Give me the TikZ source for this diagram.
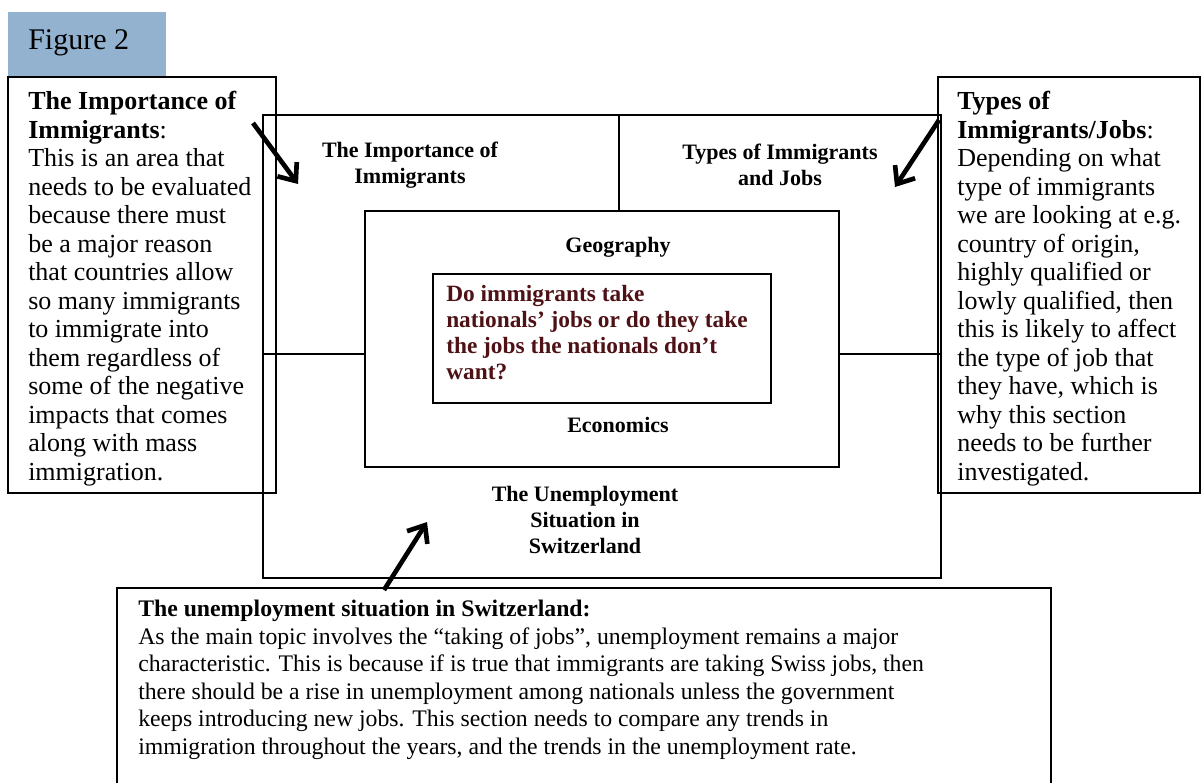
\documentclass[tikz,border=0pt]{standalone}
\usepackage{fontspec}
\setmainfont{Liberation Serif}
\usetikzlibrary{arrows.meta, positioning, fit}

\definecolor{figblue}{RGB}{146,178,207}
\definecolor{qred}{RGB}{78,18,22}

\begin{document}
\begin{tikzpicture}[x=0.75pt, y=-0.75pt]

\tikzset{box/.style = {draw, line width=1pt, inner sep=0pt}}
\tikzset{sidetext/.style = {anchor=north west, align=left, inner sep=0pt, font=\fontsize{19.5}{21.4}\selectfont}}
\tikzset{bottext/.style = {anchor=north west, align=left, inner sep=0pt, font=\fontsize{17.8}{20.6}\selectfont}}
\tikzset{label/.style = {align=center, inner sep=0pt, font=\bfseries\fontsize{16.5}{19.5}\selectfont}}
\tikzset{fat/.style = {line width=3.5pt, -{Straight Barb[length=11pt, width=18pt, line width=3.5pt]}}}
\useasboundingbox (0,0) rectangle (1202,782);
% boxes
\node[box, draw=none, fill=figblue, fit={(8,12) (166,77)}] (fig) {};
\node[anchor=west, inner sep=0pt, font=\fontsize{22.5}{26}\selectfont] (figlabel) at (28,43) {Figure 2};
\node[box, fit={(8,77) (276,493)}] (left) {};
\node[box, fit={(938,77) (1200,493)}] (right) {};
\node[box, fit={(263,115) (941,578)}] (outer) {};
\node[box, fit={(365,211) (839,467)}] (geo) {};
\node[box, fit={(433,274) (771,403)}] (quest) {};
\node[box, fit={(117,588) (1051,800)}] (bottom) {};
% lines between boxes
\draw[line width=1pt] (outer.north -| 619,0) -- (geo.north -| 619,0);
\draw[line width=1pt] (outer.west |- 0,354) -- (geo.west |- 0,354);
\draw[line width=1pt] (geo.east |- 0,354) -- (outer.east |- 0,354);
% labels
\node[label] (imp) at (410,165) {The Importance of\\Immigrants};
\node[label] (types) at (780,165) {Types of Immigrants\\and Jobs};
\node[label] (geog) at (618,247) {Geography};
\node[label, anchor=north west, align=left, text=qred, font=\bfseries\fontsize{17.5}{19.5}\selectfont] (q) at (446,285) {Do immigrants take\\nationals’ jobs or do they take\\the jobs the nationals don’t\\want?};
\node[label] (econ) at (618,425) {Economics};
\node[label] (unemp) at (585,520) {The Unemployment\\Situation in\\Switzerland};
% side texts
\node[sidetext] (imptext) at (28,91) {\textbf{The Importance of}\\\textbf{Immigrants}:\\This is an area that\\needs to be evaluated\\because there must\\be a major reason\\that countries allow\\so many immigrants\\to immigrate into\\them regardless of\\some of the negative\\impacts that comes\\along with mass\\immigration.};
\node[sidetext] (typestext) at (957,91) {\textbf{Types of}\\\textbf{Immigrants/Jobs}:\\Depending on what\\type of immigrants\\we are looking at e.g.\\country of origin,\\highly qualified or\\lowly qualified, then\\this is likely to affect\\the type of job that\\they have, which is\\why this section\\needs to be further\\investigated.};
\node[bottext] (unemptext) at (138,600) {\textbf{The unemployment situation in Switzerland:}\\As the main topic involves the “taking of jobs”, unemployment remains a major\\characteristic. This is because if is true that immigrants are taking Swiss jobs, then\\there should be a rise in unemployment among nationals unless the government\\keeps introducing new jobs. This section needs to compare any trends in\\immigration throughout the years, and the trends in the unemployment rate.};
% arrows
\coordinate (la) at (253,123);
\coordinate (lb) at (298,184);
\coordinate (ra) at (939,120);
\coordinate (rb) at (895,187);
\coordinate (ba) at (384,590);
\coordinate (bb) at (427,522);
\draw[fat] (la) -- (lb);
\draw[fat] (ra) -- (rb);
\draw[fat] (ba) -- (bb);
\end{tikzpicture}
\end{document}
